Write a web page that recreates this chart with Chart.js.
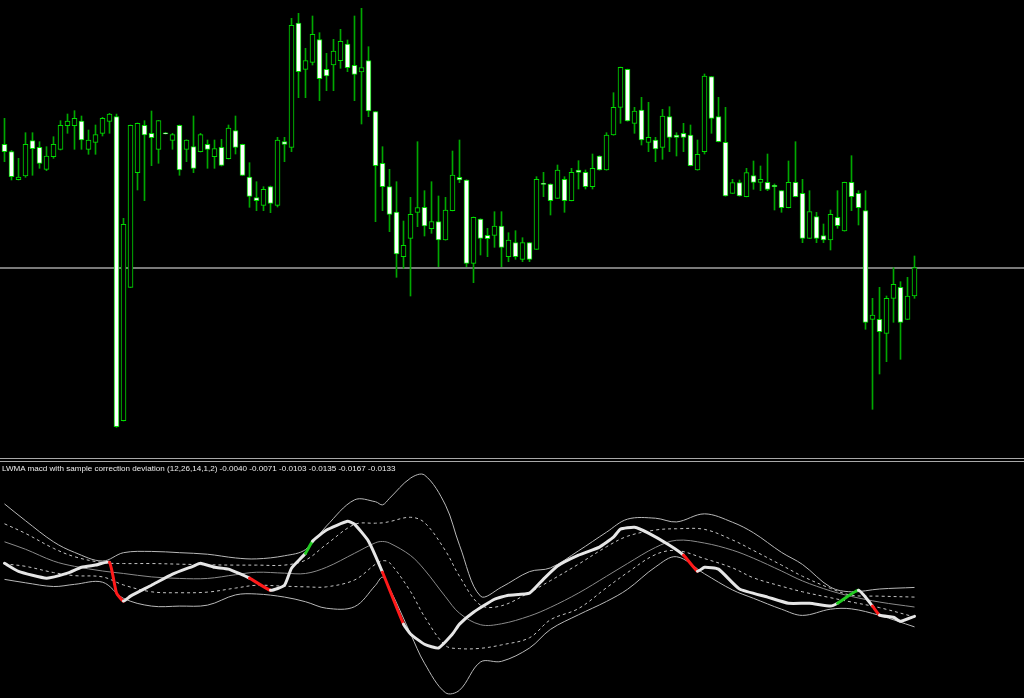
<!DOCTYPE html>
<html>
<head>
<meta charset="utf-8">
<title>LWMA macd with sample correction deviation</title>
<script src="https://cdn.jsdelivr.net/npm/chart.js@4.4.1/dist/chart.umd.min.js"></script>
<style>
  html, body { margin: 0; padding: 0; background: #000; }
  #wrap { position: relative; width: 1024px; height: 698px; overflow: hidden; background: #000; }
  #priceChart { position: absolute; left: 0; top: 0; }
  #macdChart { position: absolute; left: 0; top: 462px; }
  .sep { position: absolute; left: 0; width: 1024px; height: 1px; background: #a8a8a8; }
  #macdLabel {
    position: absolute; left: 2px; top: 464px;
    font: 8.1px "Liberation Sans", Arial, sans-serif;
    color: #ececec; white-space: nowrap;
  }
</style>
</head>
<body>
<div id="wrap">
  <canvas id="priceChart" width="1024" height="458"></canvas>
  <div class="sep" style="top:458px"></div>
  <div class="sep" style="top:461px"></div>
  <canvas id="macdChart" width="1024" height="236"></canvas>
  <div id="macdLabel"></div>
</div>
<script>
// Candles (price in points), one entry per bar, oldest first
const open = [
  315.7, 308.3, 280.3, 284, 319.3, 312.7, 290.7, 303.3, 310.7, 334.3,
  334.3, 339, 310.7, 317.7, 326.7, 338.7, 343.3, 39.3, 172.7, 287.3,
  334.7, 326.7, 310.7, 327.2, 319.7, 334.7, 310.7, 313.3, 308.3, 315.7,
  303.3, 312.7, 301.3, 329.3, 315.7, 283, 262.3, 254.7, 273.3, 254.7,
  318.3, 312.7, 437, 390.7, 397.7, 420.3, 390.7, 395, 399.3, 416,
  394.7, 388, 399.3, 348.3, 296.7, 273.3, 248, 203.3, 221.7, 247.7,
  252.7, 231.3, 238.3, 220, 249.3, 282.7, 280, 196.7, 241, 224.7,
  224.7, 234, 203.3, 217.3, 200.7, 217.3, 210.7, 276.6, 276, 261.7,
  280.7, 259.3, 290, 287.7, 273.3, 304, 290, 325, 352.7, 390.7,
  336.7, 350, 317.7, 320, 312.7, 343.3, 325, 326.7, 325, 290,
  308.3, 383.3, 343.3, 317.7, 266.7, 277.3, 263.3, 284.3, 277.7, 277.7,
  274.6, 269.3, 252.3, 277.7, 266.7, 221.7, 243.3, 224.3, 220, 242.7,
  229, 277.7, 266.7, 249.3, 140.7, 140.7, 126.7, 161.7, 172.7, 140.7,
  164
];
const high = [
  341.7, 309.5, 301.7, 327.3, 327.3, 318.3, 313.3, 323.3, 339.3, 346,
  349.3, 344, 330, 335, 342.7, 346.7, 346, 241.7, 335, 337,
  339.3, 349, 339.5, 327.6, 326.7, 335, 320.2, 344, 326.7, 320,
  320, 320.7, 335, 344, 315.9, 297.3, 278.3, 273.3, 274, 322.7,
  322.7, 441.7, 446.7, 411.7, 444, 427.3, 406.7, 420.7, 430.7, 420,
  444, 451.7, 413.3, 348.5, 313.3, 290.7, 278.3, 239, 262.7, 318.3,
  269.3, 278.3, 264, 262.7, 309, 320, 280.2, 243, 241.2, 231.7,
  248.3, 248.3, 227.3, 229.3, 222.3, 217.5, 283.3, 287.7, 276.2, 295,
  283.3, 291.7, 299.3, 290, 306, 304.2, 327.3, 367.3, 392.9, 390.9,
  352.7, 362.7, 357.7, 322.7, 350.7, 353.3, 327.3, 336.7, 335, 320,
  386, 383.5, 362.7, 352.7, 280.7, 280, 291.7, 299, 294, 306,
  276, 269.5, 299, 318.3, 280.7, 269.3, 247.7, 236, 250, 269.3,
  277.9, 304.3, 269.3, 269.3, 161.7, 172.7, 164, 192.3, 178.3, 182.7,
  204
];
const low = [
  298.3, 280, 280, 282.7, 284.7, 291.7, 289.3, 301.7, 310, 326.7,
  310.7, 310.7, 305.7, 305.7, 324, 326.7, 32.7, 39, 172.5, 270,
  259.3, 294.3, 296.7, 326, 310.7, 284.7, 298.3, 287.3, 308, 291.7,
  291.7, 294, 301, 306, 284.5, 252.7, 249.3, 249.3, 247.3, 253,
  298.3, 308.3, 362.3, 362.3, 395, 359.3, 369.3, 369.3, 391.7, 388.3,
  359.3, 336, 343.3, 238.3, 249.3, 228.3, 182.7, 191.7, 164, 233.3,
  224, 226.7, 193.3, 219.8, 249.1, 277.3, 193.3, 177.3, 205, 203.3,
  212.7, 193.3, 198.3, 200.7, 198.3, 198.3, 210.5, 263.3, 245, 261.5,
  247.7, 259.1, 271, 271, 271, 289.8, 289.8, 324.8, 336.7, 338.8,
  326.7, 315, 308.3, 298.3, 300.7, 308.3, 304, 308.3, 294.1, 289.8,
  306, 326.7, 318.1, 263.8, 266.5, 263.8, 263.1, 270.7, 269.3, 269.3,
  250, 247.7, 252.1, 263.1, 217.3, 221.5, 217.3, 217.3, 210, 231.7,
  228.8, 249.3, 235, 130.7, 50.7, 86, 98.3, 137.7, 100.7, 140.5,
  161.7
];
const close = [
  308.3, 283.3, 283, 315.7, 311.3, 296.7, 304, 315.7, 334.7, 339,
  341.7, 320, 320, 325.3, 341.7, 346, 33.3, 235.7, 334.7, 336.7,
  325, 322.3, 339.3, 326.2, 325.3, 290, 320, 291.7, 325.3, 310.7,
  311.3, 294.7, 332, 312.7, 284.7, 263.7, 259.3, 270.7, 256.7, 320,
  315.7, 434.7, 388.3, 399.3, 425.7, 381.3, 384, 409, 418.7, 392.3,
  385.7, 392.3, 349, 294.3, 273.3, 245.7, 206, 214.7, 245.7, 252.3,
  234, 238.3, 220, 250, 285, 280, 196.7, 242.7, 221.7, 221.3,
  234, 212.7, 220, 203.3, 217.3, 200.7, 280.7, 275.6, 259.3, 290,
  259.3, 287.7, 287.7, 273.3, 291.7, 290, 325, 352.7, 392.7, 339,
  349, 320, 322.7, 311, 344, 322.7, 322.7, 322.7, 294.3, 305.7,
  384, 341.7, 318.3, 264, 277.3, 264, 287.3, 277.7, 280.7, 270.7,
  273.4, 252.3, 277.7, 263.3, 221.7, 248.3, 221.7, 220, 245.7, 234.3,
  277.7, 263.3, 252.3, 137.7, 145, 128.3, 161.7, 175.7, 137.7, 164,
  192.3
];
const bidPrice = 192.3;

// Indicator: main LWMA macd line (bar number, value, signal: -1 down, 1 up)
const macdBars = [
  0, 2, 6, 9, 11, 13, 15, 16, 17, 18, 21, 24, 27, 28, 30, 32, 35, 38, 40, 41,
  43, 44, 46, 49, 50, 52, 54, 57, 58, 60, 62, 64, 65, 67, 70, 72, 75, 77, 79, 82,
  85, 87, 88, 90, 92, 95, 97, 99, 100, 102, 105, 109, 112, 115, 118, 119, 122, 124, 125, 127,
  128, 130
];
const macdMain = [
  0.0038, 0.0012, -0.0010, 0.0006, 0.0025, 0.0032, 0.0041, -0.0058, -0.0084, -0.0068,
  -0.0033, 0.0003, 0.0029, 0.0038, 0.0025, 0.0019, -0.0010, -0.0049, -0.0033, 0.0022,
  0.0070, 0.0109, 0.0145, 0.0173, 0.0164, 0.0109, 0.0009, -0.0158, -0.0190, -0.0223,
  -0.0235, -0.0190, -0.0158, -0.0120, -0.0078, -0.0065, -0.0058, -0.0013, 0.0029, 0.0064,
  0.0090, 0.0122, 0.0148, 0.0154, 0.0135, 0.0096, 0.0064, 0.0012, 0.0025, 0.0019,
  -0.0045, -0.0071, -0.0091, -0.0091, -0.0100, -0.0091, -0.0049, -0.0100, -0.0129, -0.0136,
  -0.0149, -0.0133
];
const macdSignal = [
  0, 0, 0, 0, 0, 0, -1, -1, 0, 0, 0, 0, 0, 0, 0, 0, -1, 0, 0, 0,
  1, 0, 0, 0, 0, 0, -1, 0, 0, 0, 0, 0, 0, 0, 0, 0, 0, 0, 0, 0,
  0, 0, 0, 0, 0, 0, -1, 0, 0, 0, 0, 0, 0, 0, 0, 1, 0, -1, 0, 0,
  0, 0
];

// Deviation bands around the signal line
const bandBars = [
  0, 3, 7, 10, 14, 17, 21, 25, 29, 33, 36, 40, 43, 46, 50, 53, 54, 55, 58, 60,
  63, 65, 68, 71, 75, 78, 82, 86, 89, 93, 96, 100, 104, 107, 111, 114, 118, 121, 125, 130
];
const upper2 = [
  0.0229, 0.0175, 0.0107, 0.0073, 0.0045, 0.0072, 0.0076, 0.0072, 0.0067, 0.0055,
  0.0052, 0.0062, 0.0082, 0.0158, 0.0242, 0.0236, 0.0226, 0.0247, 0.0312, 0.0322,
  0.0225, 0.0096, -0.0068, -0.0039, 0.0011, 0.0023, 0.0078, 0.0138, 0.0180, 0.0183,
  0.0171, 0.0197, 0.0170, 0.0136, 0.0073, 0.0034, -0.0039, -0.0054, -0.0045, -0.0040
];
const upper1 = [
  0.0165, 0.0134, 0.0086, 0.0059, 0.0040, 0.0037, 0.0037, 0.0035, 0.0033, 0.0032,
  0.0032, 0.0032, 0.0048, 0.0099, 0.0163, 0.0167, 0.0168, 0.0172, 0.0186, 0.0169,
  0.0078, -0.0004, -0.0097, -0.0099, -0.0056, -0.0018, 0.0035, 0.0091, 0.0125, 0.0145,
  0.0149, 0.0147, 0.0113, 0.0079, 0.0032, -0.0004, -0.0043, -0.0065, -0.0068, -0.0071
];
const middle = [
  0.0107, 0.0083, 0.0045, 0.0028, 0.0013, 0.0005, -0.0006, -0.0011, -0.0011, 0.0001,
  0.0009, 0.0006, 0.0005, 0.0025, 0.0070, 0.0104, 0.0108, 0.0103, 0.0063, 0.0017,
  -0.0070, -0.0123, -0.0160, -0.0157, -0.0132, -0.0104, -0.0058, -0.0004, 0.0037, 0.0089,
  0.0112, 0.0103, 0.0080, 0.0054, 0.0013, -0.0019, -0.0051, -0.0069, -0.0087, -0.0103
];
const lower1 = [
  0.0036, 0.0028, 0.0008, -0.0002, -0.0006, -0.0032, -0.0054, -0.0057, -0.0055, -0.0042,
  -0.0033, -0.0036, -0.0038, -0.0038, -0.0016, 0.0035, 0.0046, 0.0040, -0.0053, -0.0134,
  -0.0227, -0.0237, -0.0236, -0.0225, -0.0202, -0.0144, -0.0108, -0.0041, 0.0008, 0.0066,
  0.0079, 0.0053, 0.0023, -0.0009, -0.0036, -0.0054, -0.0073, -0.0087, -0.0105, -0.0135
];
const lower2 = [
  -0.0014, -0.0025, -0.0037, -0.0030, -0.0023, -0.0075, -0.0100, -0.0100, -0.0097, -0.0064,
  -0.0061, -0.0071, -0.0086, -0.0107, -0.0102, -0.0033, -0.0007, -0.0042, -0.0189, -0.0284,
  -0.0379, -0.0371, -0.0280, -0.0278, -0.0235, -0.0175, -0.0128, -0.0085, -0.0046, 0.0026,
  0.0059, 0.0004, -0.0048, -0.0075, -0.0110, -0.0130, -0.0110, -0.0109, -0.0130, -0.0167
];

const indicatorName = "LWMA macd with sample correction deviation";
const indicatorParams = [12, 26, 14, 1, 2];

document.addEventListener("DOMContentLoaded", function () {
  // both panels share the same bar axis: 7 px per bar, first bar at x = 4.5
  const barAxis = {
    type: "linear",
    display: false,
    offset: false,
    grid: { offset: false },
    min: -4.5 / 7,
    max: -4.5 / 7 + 1024 / 7,
  };

  const colors = {
    candleBorder: "#00dc00",
    wick: "#00a800",
    bearBody: "#ffffff",
    bullBody: "#000000",
    bidLine: "#7a7a7a",
    main: "#e6e6e6",
    mainDown: "#ff1a1a",
    mainUp: "#22cc22",
    band: "#b8b8b8",
    bandInner: "#c4c4c4",
    middle: "#8a8a8a",
  };

  const commonOptions = {
    responsive: false,
    animation: false,
    events: [],
    layout: { padding: 0 },
    plugins: {
      legend: { display: false },
      tooltip: { enabled: false },
      title: { display: false },
    },
  };

  // Horizontal bid line behind the candles
  const bidLinePlugin = {
    id: "bidLine",
    beforeDatasetsDraw(chart) {
      const ctx = chart.ctx;
      const y = Math.round(chart.scales.y.getPixelForValue(bidPrice));
      ctx.save();
      ctx.strokeStyle = colors.bidLine;
      ctx.lineWidth = 2;
      ctx.beginPath();
      ctx.moveTo(chart.chartArea.left, y);
      ctx.lineTo(chart.chartArea.right, y);
      ctx.stroke();
      ctx.restore();
    },
  };

  function createPriceChart() {
    const ctx = document.getElementById("priceChart");
    if (!ctx) return;

    new Chart(ctx, {
      type: "bar",
      data: {
        datasets: [
          {
            label: "Body",
            data: close.map((c, i) => ({ x: i, y: [open[i], c] })),
            backgroundColor: close.map((c, i) =>
              c < open[i] ? colors.bearBody : colors.bullBody
            ),
            borderColor: colors.candleBorder,
            borderWidth: 1,
            borderSkipped: false,
            barThickness: 5,
            grouped: false,
            order: 1,
          },
          {
            label: "Wick",
            data: high.map((h, i) => ({ x: i, y: [low[i], h] })),
            backgroundColor: colors.wick,
            borderWidth: 0,
            barThickness: 1,
            grouped: false,
            order: 2,
          },
        ],
      },
      options: {
        ...commonOptions,
        scales: {
          x: barAxis,
          y: { display: false, min: 2, max: 460 },
        },
      },
      plugins: [bidLinePlugin],
    });
  }

  function bandDataset(label, values, color, dashed, order) {
    return {
      label: label,
      data: values.map((v, i) => ({ x: bandBars[i], y: v })),
      borderColor: color,
      borderWidth: 1,
      borderDash: dashed ? [3, 3] : [],
      pointRadius: 0,
      tension: 0.35,
      fill: false,
      order: order,
    };
  }

  function createMacdChart() {
    const ctx = document.getElementById("macdChart");
    if (!ctx) return;

    new Chart(ctx, {
      type: "line",
      data: {
        datasets: [
          {
            label: "LWMA macd",
            data: macdMain.map((v, i) => ({ x: macdBars[i], y: v })),
            borderColor: colors.main,
            borderWidth: 3,
            borderCapStyle: "round",
            borderJoinStyle: "round",
            pointRadius: 0,
            tension: 0.15,
            segment: {
              borderColor: (s) =>
                macdSignal[s.p0DataIndex] < 0
                  ? colors.mainDown
                  : macdSignal[s.p0DataIndex] > 0
                  ? colors.mainUp
                  : colors.main,
            },
            order: 0,
          },
          bandDataset("Upper 2", upper2, colors.band, false, 1),
          bandDataset("Upper 1", upper1, colors.bandInner, true, 2),
          bandDataset("Middle", middle, colors.middle, false, 3),
          bandDataset("Lower 1", lower1, colors.bandInner, true, 4),
          bandDataset("Lower 2", lower2, colors.band, false, 5),
        ],
      },
      options: {
        ...commonOptions,
        scales: {
          x: barAxis,
          y: { display: false, min: -0.0396, max: 0.0364 },
        },
      },
    });

    // indicator caption with the last value of every buffer
    const last = [upper2, upper1, middle, lower1, lower2, macdMain].map(
      (s) => s[s.length - 1].toFixed(4)
    );
    document.getElementById("macdLabel").textContent =
      indicatorName + " (" + indicatorParams.join(",") + ") " + last.join(" ");
  }

  createPriceChart();
  createMacdChart();
});
</script>
</body>
</html>
